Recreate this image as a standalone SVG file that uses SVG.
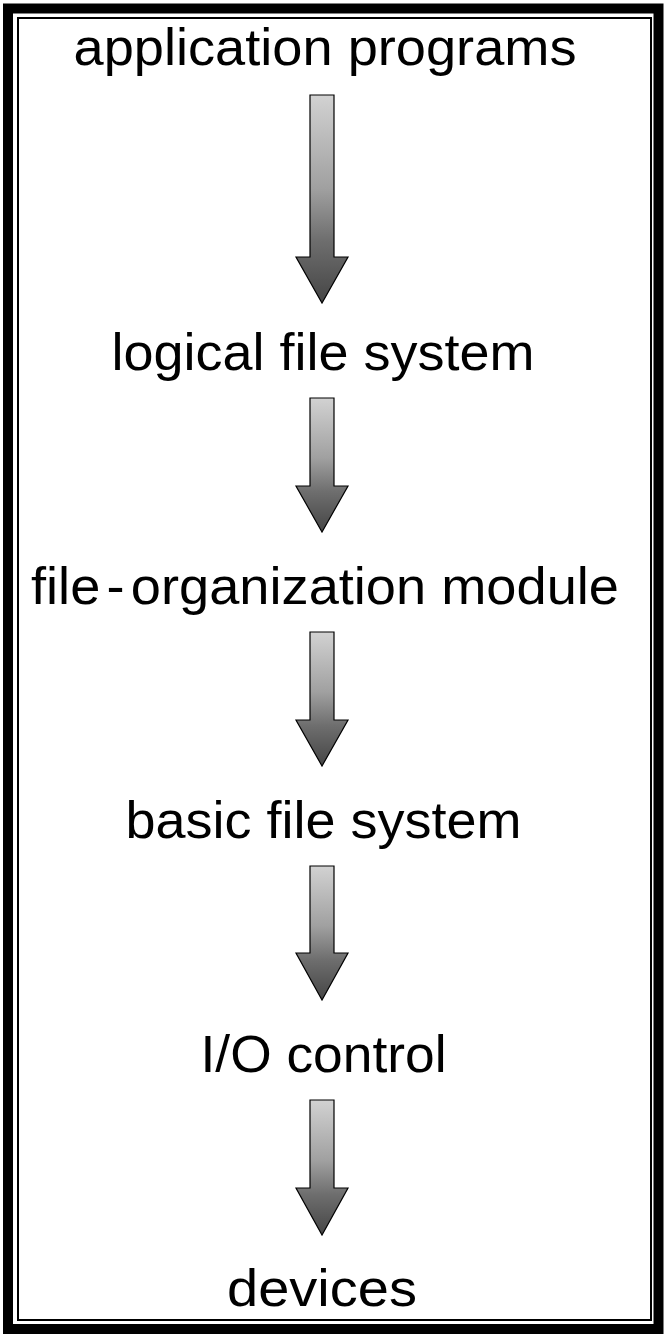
<svg xmlns="http://www.w3.org/2000/svg" width="667" height="1343" viewBox="0 0 667 1343">
  <defs>
    <linearGradient id="arrowGrad" x1="0" y1="0" x2="0" y2="1">
      <stop offset="0" stop-color="#d2d2d2"/>
      <stop offset="0.45" stop-color="#a0a0a0"/>
      <stop offset="0.7" stop-color="#6e6e6e"/>
      <stop offset="1" stop-color="#454545"/>
    </linearGradient>
  </defs>
  <style>
    .label { font-family: "Liberation Sans", Arial, Helvetica, sans-serif; font-size: 52px; fill: #000; text-anchor: middle; }
    .arrow { fill: url(#arrowGrad); stroke: #000; stroke-width: 1.2; stroke-linejoin: miter; }
  </style>
  <rect width="667" height="1343" fill="#fff"/>
  <g id="frame" fill="none" stroke="#000">
    <rect x="8" y="8.5" width="650.5" height="1320.5" stroke-width="10"/>
    <rect x="18" y="18" width="633" height="1302" stroke-width="2"/>
  </g>
  <g id="connectors">
    <path class="arrow" d="M310,95 H334 V257 H348 L322,303 L296,257 H310 Z"/>
    <path class="arrow" d="M310,398 H334 V486 H348 L322,532 L296,486 H310 Z"/>
    <path class="arrow" d="M310,632 H334 V720 H348 L322,766 L296,720 H310 Z"/>
    <path class="arrow" d="M310,866 H334 V953 H348 L322,1000 L296,953 H310 Z"/>
    <path class="arrow" d="M310,1100 H334 V1188 H348 L322,1235 L296,1188 H310 Z"/>
  </g>
  <g id="node-application-programs">
    <text class="label" x="325" y="65" textLength="503" lengthAdjust="spacingAndGlyphs">application programs</text>
  </g>
  <g id="node-logical-file-system">
    <text class="label" x="323" y="370" textLength="423" lengthAdjust="spacingAndGlyphs">logical file system</text>
  </g>
  <g id="node-file-organization-module">
    <text class="label" x="325" y="604" textLength="588" lengthAdjust="spacingAndGlyphs">file<tspan dx="6">-</tspan><tspan dx="6">organization module</tspan></text>
  </g>
  <g id="node-basic-file-system">
    <text class="label" x="323.5" y="838" textLength="396" lengthAdjust="spacingAndGlyphs">basic file system</text>
  </g>
  <g id="node-io-control">
    <text class="label" x="323.5" y="1072" textLength="246" lengthAdjust="spacingAndGlyphs">I/O control</text>
  </g>
  <g id="node-devices">
    <text class="label" x="322" y="1306" textLength="190" lengthAdjust="spacingAndGlyphs">devices</text>
  </g>
</svg>
